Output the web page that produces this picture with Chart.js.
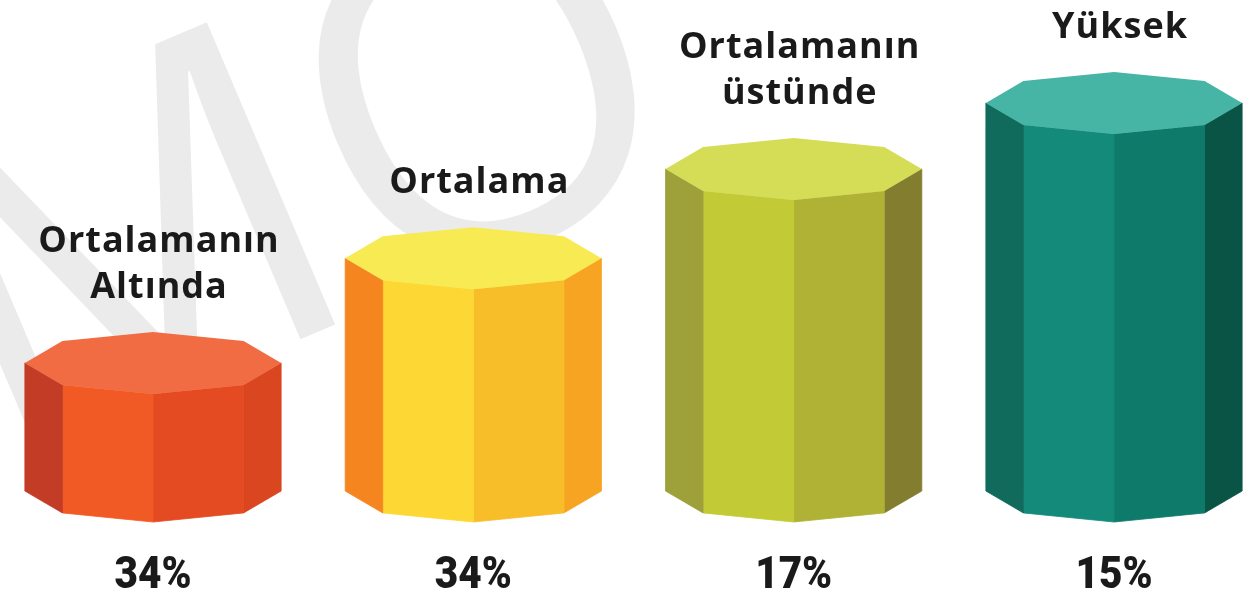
<!DOCTYPE html>
<html lang="tr">
<head>
<meta charset="utf-8">
<title>Ortalama dağılımı</title>
<script src="https://cdn.jsdelivr.net/npm/chart.js@4.4.1/dist/chart.umd.min.js"></script>
<style>
	html, body { margin: 0; padding: 0; background: #ffffff; }
	#chart-levels { display: block; }
</style>
</head>
<body>
<canvas id="chart-levels" width="1254" height="591"></canvas>
<script>
// category names (one entry per line of the title above each column)
const CATEGORIES = [["Ortalamanın", "Altında"], ["Ortalama"], ["Ortalamanın", "üstünde"], ["Yüksek"]];
// column heights as drawn in the picture (relative level, 0-100)
const LEVELS = [33, 60, 83, 100];
// share printed under each column
const PERCENTS = [34, 34, 17, 15];

// face colours: top, left, front-left, front-right, right
const PALETTE = [
	["#f26c43", "#c33c26", "#f15a24", "#e54b22", "#d9461f"],
	["#f8ea52", "#f5851f", "#fdd835", "#f8be2a", "#f7a422"],
	["#d4dd55", "#9ea03a", "#c2cb35", "#afb234", "#837d30"],
	["#47b5a5", "#116b5d", "#148a7a", "#0e7a6a", "#0a5446"],
];
const TEXT_COLOR = "#1a1a1a";

//--------------------------------------------
// Plugins
//--------------------------------------------
const watermark = {
	id: "watermark",
	beforeDraw(chart) {
		const { ctx } = chart;
		ctx.save();
		ctx.fillStyle = "#ffffff";
		ctx.fillRect(0, 0, chart.width, chart.height);
		ctx.font = "500 460px 'Open Sans'";
		ctx.fillStyle = "#ebebeb";
		const angle = -23 * Math.PI / 180;
		// put the centre of the "O" where it sits in the picture
		const mO = ctx.measureText("O");
		const lx = ctx.measureText("DEM").width + (mO.actualBoundingBoxRight - mO.actualBoundingBoxLeft) / 2;
		const ly = -(mO.actualBoundingBoxAscent - mO.actualBoundingBoxDescent) / 2;
		const c = Math.cos(angle), s = Math.sin(angle);
		const ox = 474 - (lx * c - ly * s);
		const oy = 86 - (lx * s + ly * c);
		ctx.translate(ox, oy);
		ctx.rotate(angle);
		ctx.textBaseline = "alphabetic";
		ctx.fillText("DEMO", 0, 0);
		ctx.restore();
	},
};

const prisms = {
	id: "prisms",
	afterDatasetsDraw(chart) {
		const { ctx } = chart;
		const meta = chart.getDatasetMeta(0);
		meta.data.forEach((bar, i) => {
			const colors = PALETTE[i];
			const rx = bar.width / 2;
			const ry = rx * 0.242;
			const pt = (a, cy) => [bar.x + rx * Math.cos(a * Math.PI / 180), cy + ry * Math.sin(a * Math.PI / 180)];

			// side faces: right, front-right, front-left, left
			const faces = [[0, 45, 4], [45, 90, 3], [90, 135, 2], [135, 180, 1]];
			faces.forEach(([a1, a2, c]) => {
				const p = [pt(a1, bar.y), pt(a2, bar.y), pt(a2, bar.base), pt(a1, bar.base)];
				ctx.beginPath();
				ctx.moveTo(p[0][0], p[0][1]);
				p.slice(1).forEach((q) => ctx.lineTo(q[0], q[1]));
				ctx.closePath();
				ctx.fillStyle = colors[c];
				ctx.fill();
				ctx.strokeStyle = colors[c];
				ctx.lineWidth = 0.8;
				ctx.stroke();
			});

			// top octagon
			ctx.beginPath();
			for (let k = 0; k < 8; k++) {
				const q = pt(k * 45, bar.y);
				k === 0 ? ctx.moveTo(q[0], q[1]) : ctx.lineTo(q[0], q[1]);
			}
			ctx.closePath();
			ctx.fillStyle = colors[0];
			ctx.fill();

			// title above
			ctx.save();
			ctx.fillStyle = TEXT_COLOR;
			ctx.textAlign = "center";
			ctx.textBaseline = "alphabetic";
			ctx.font = "700 36px 'Open Sans'";
			ctx.letterSpacing = "1px";
			const lines = CATEGORIES[i];
			const lastBase = bar.y - ry - 34;
			lines.forEach((line, j) => {
				ctx.fillText(line, bar.x + 6, lastBase - (lines.length - 1 - j) * 46);
			});
			ctx.restore();

			// percentage below (narrow heavy figures)
			ctx.save();
			ctx.fillStyle = TEXT_COLOR;
			ctx.textAlign = "center";
			ctx.textBaseline = "alphabetic";
			ctx.font = "900 45px Roboto";
			ctx.translate(bar.x, 588);
			ctx.scale(0.9, 1);
			ctx.fillText(PERCENTS[i] + "%", 0, 0);
			ctx.restore();
		});
	},
};

//--------------------------------------------
// Chart
//--------------------------------------------
const CHART_DATA = {
	labels: CATEGORIES.map((c) => c.join(" ")),
	datasets: [
		{
			label: "Seviye",
			data: LEVELS,
			backgroundColor: "rgba(0,0,0,0)",
			borderWidth: 0,
			categoryPercentage: 1,
			barPercentage: 0.8,
		},
	],
};

const CHART_CONFIG = {
	type: "bar",
	data: CHART_DATA,
	options: {
		responsive: false,
		animation: false,
		layout: {
			padding: { left: 153, right: 140, top: 103, bottom: 100 },
		},
		scales: {
			x: {
				display: false,
				offset: false,
				grid: { offset: false },
			},
			y: {
				display: false,
				min: 0,
				max: 100,
			},
		},
		plugins: {
			legend: { display: false },
			title: { display: false },
			tooltip: { enabled: false },
		},
	},
	plugins: [watermark, prisms],
};

new Chart(document.getElementById("chart-levels"), CHART_CONFIG);
</script>
</body>
</html>
